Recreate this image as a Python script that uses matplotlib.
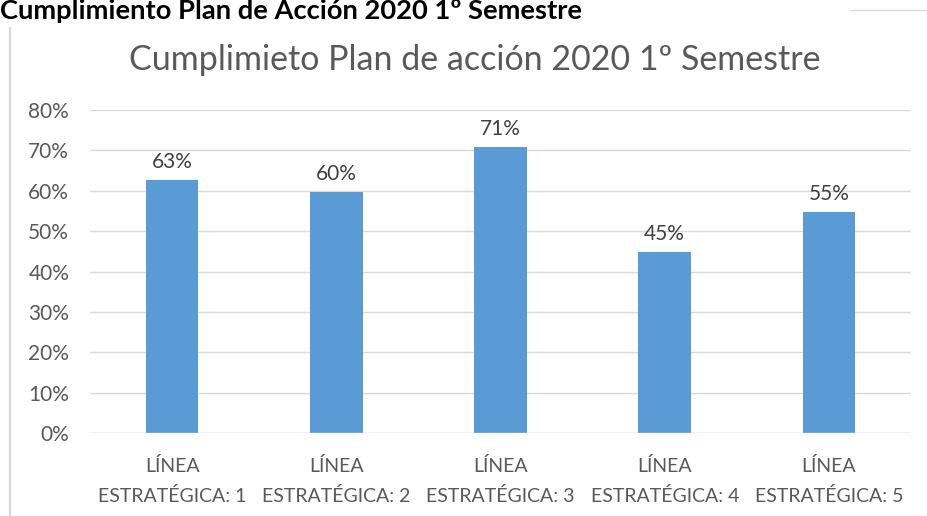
import matplotlib.pyplot as plt
from matplotlib.lines import Line2D

categories = ['LÍNEA\nESTRATÉGICA: 1', 'LÍNEA\nESTRATÉGICA: 2', 'LÍNEA\nESTRATÉGICA: 3',
              'LÍNEA\nESTRATÉGICA: 4', 'LÍNEA\nESTRATÉGICA: 5']
values = [0.626, 0.597, 0.708, 0.448, 0.547]
labels = ['63%', '60%', '71%', '45%', '55%']
yticks = [0, 0.1, 0.2, 0.3, 0.4, 0.5, 0.6, 0.7, 0.8]

plt.rcParams['font.family'] = ['Lato', 'DejaVu Sans']

fig = plt.figure(figsize=(9.27, 5.16), dpi=100)
ax = fig.add_axes([90 / 927, 1 - 433 / 516, 821 / 927, 323 / 516])

x = range(len(categories))
ax.bar(x, values, width=0.32, color='#5B9BD5', zorder=3)
for xi, v, lab in zip(x, values, labels):
    ax.text(xi, v + 0.02, lab, ha='center', va='bottom', fontsize=15, color='#404040')

ax.set_xlim(-0.5, 4.5)
ax.set_ylim(0, 0.8)
ax.set_yticks(yticks)
ax.set_yticklabels([f'{int(round(t * 100))}%' for t in yticks])
ax.set_xticks(list(x))
ax.set_xticklabels(categories, linespacing=1.85, fontsize=14)
ax.tick_params(axis='both', length=0, labelsize=15, colors='#595959')
ax.tick_params(axis='x', labelsize=14, pad=17)
ax.tick_params(axis='y', pad=15)
ax.grid(axis='y', color='#D9D9D9', linewidth=1, zorder=0)
for s in ax.spines.values():
    s.set_visible(False)
ax.axhline(0, color='#D9D9D9', linewidth=1, zorder=4)

fig.text(475 / 927, 1 - 60 / 516, 'Cumplimieto Plan de acción 2020 1º Semestre',
         ha='center', va='center', fontsize=24.5, color='#595959')
fig.text(0, 1 - 11 / 516, 'Cumplimiento Plan de Acción 2020 1º Semestre',
         ha='left', va='center', fontsize=19.7, fontweight='bold', color='black')

fig.add_artist(Line2D([10 / 927, 10 / 927], [0, 1 - 28 / 516], color='#D9D9D9', linewidth=1.5))
fig.add_artist(Line2D([851 / 927, 1], [1 - 10 / 516, 1 - 10 / 516], color='#D9D9D9', linewidth=1))

fig.savefig('out.png', dpi=100)
